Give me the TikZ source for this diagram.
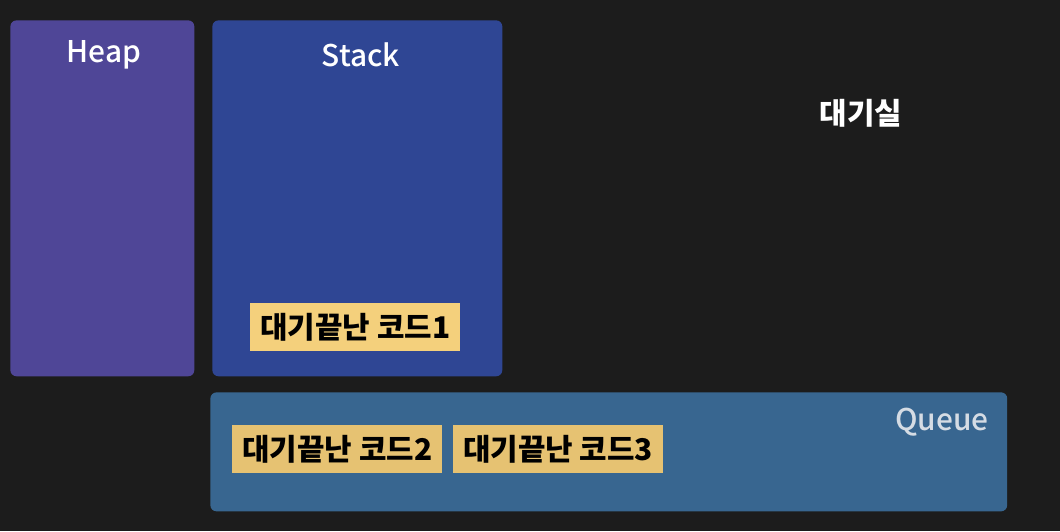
\documentclass[tikz,border=0pt]{standalone}
\usepackage{fontspec}
\setmainfont{Noto Sans CJK KR}
\newfontfamily\titlefont{Noto Sans CJK KR Medium}
\usetikzlibrary{positioning}
\definecolor{BgBlack}{HTML}{1C1C1C}
\definecolor{HeapPurple}{HTML}{4F4697}
\definecolor{StackBlue}{HTML}{2F4694}
\definecolor{QueueBlue}{HTML}{386690}
\definecolor{QueueGrey}{HTML}{D5DCE4}
\definecolor{CodeYellow}{HTML}{F4D07C}
\definecolor{CodeGold}{HTML}{E6C272}
\tikzset{
    % memory areas
    membox/.style={
        rectangle,
        draw=none,
        rounded corners=3.5pt,
        anchor=north west,
        inner sep=0pt
    },
    titletext/.style={
        text=white,
        font=\titlefont\fontsize{17}{20}\selectfont
    },
    % finished code blocks
    codebox/.style={
        rectangle,
        fill=CodeYellow,
        anchor=north west,
        minimum width=4.2cm,
        minimum height=0.96cm,
        inner sep=0pt,
        text=black,
        font=\fontsize{17}{20}\selectfont\bfseries
    }
}
\begin{document}
\begin{tikzpicture}[x=0.02cm,y=-0.02cm]
    % background
    \fill[BgBlack] (0,0) rectangle (1060,531);

    % Heap
    \node[membox,fill=HeapPurple,minimum width=3.68cm,minimum height=7.12cm] (heap) at (10,20) {};
    \node[titletext] (heaplabel) at (104,55) {Heap};

    % Stack
    \node[membox,fill=StackBlue,minimum width=5.8cm,minimum height=7.12cm] (stack) at (212,20) {};
    \node[titletext] (stacklabel) at (361,55) {Stack};
    \node[codebox] (code1) at (250,303) {대기끝난 코드1};

    % waiting room
    \node[titletext,font=\fontsize{17}{20}\selectfont\bfseries] (waitroom) at (861,113) {대기실};

    % Queue
    \node[membox,fill=QueueBlue,minimum width=15.94cm,minimum height=2.38cm] (queue) at (210,392) {};
    \node[titletext,text=QueueGrey] (queuelabel) at (942,422) {Queue};
    \node[codebox,fill=CodeGold] (code2) at (232,425) {대기끝난 코드2};
    \node[codebox,fill=CodeGold,right=0.2cm of code2] (code3) {대기끝난 코드3};
\end{tikzpicture}
\end{document}
